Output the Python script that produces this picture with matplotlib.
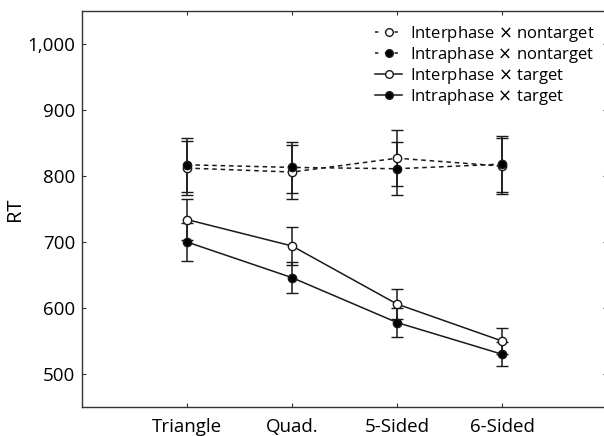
import numpy as np
import matplotlib
matplotlib.use('Agg')
import matplotlib.pyplot as plt
from matplotlib.ticker import FuncFormatter
from matplotlib.lines import Line2D

plt.rcParams['font.family'] = ['Open Sans', 'DejaVu Sans']
plt.rcParams['mathtext.fontset'] = 'dejavusans'

shapes = ['Triangle', 'Quad.', '5-Sided', '6-Sided']

inter_nontarget = [812, 806, 827, 815]
inter_nontarget_err = [41, 41, 42, 42]
intra_nontarget = [817, 813, 811, 818]
intra_nontarget_err = [41, 39, 40, 42]
inter_target = [734, 694, 606, 550]
inter_target_err = [31, 29, 23, 19]
intra_target = [700, 646, 578, 530]
intra_target_err = [29, 24, 22, 18]

series = [
    (r'Interphase $\times$ nontarget', inter_nontarget, inter_nontarget_err, 'white', (0, (3, 2.5))),
    (r'Intraphase $\times$ nontarget', intra_nontarget, intra_nontarget_err, 'black', (0, (3, 2.5))),
    (r'Interphase $\times$ target', inter_target, inter_target_err, 'white', '-'),
    (r'Intraphase $\times$ target', intra_target, intra_target_err, 'black', '-'),
]

fig = plt.figure(figsize=(6.04, 4.36), dpi=100)

left = 82 / 604
bottom = (436 - 407) / 436
width = (607 - 82) / 604
height = (407 - 11) / 436

ax = fig.add_axes((left, bottom, width, height))

x = np.arange(1, len(shapes) + 1)
for name, vals, err, face, ls in series:
    ax.errorbar(x, vals, yerr=err, color='#1a1a1a', lw=1.1, ls=ls,
                marker='o', ms=6, mfc=face, mec='#1a1a1a', mew=1.0,
                capsize=4.5, capthick=1.1, elinewidth=1.1, label=name)

ax.set_xlim(0, 5)
ax.set_ylim(450, 1050)
ax.set_xticks(x)
ax.set_xticklabels(shapes)
ax.set_yticks([500, 600, 700, 800, 900, 1000])
ax.yaxis.set_major_formatter(FuncFormatter(lambda v, p: f'{int(v):,}'))
ax.tick_params(direction='in', length=3, width=0.8, labelsize=13.5,
               top=True, right=True, color='#333333')
ax.tick_params(axis='x', pad=8)
ax.tick_params(axis='y', pad=5)
for s in ax.spines.values():
    s.set_linewidth(1.0)
    s.set_color('#333333')

ax.set_ylabel('RT', fontsize=14.5)
ax.yaxis.set_label_coords(-0.109, 0.5)

leg_handles = []
for name, vals, err, face, ls in series:
    leg_handles.append(Line2D([], [], color='#1a1a1a', lw=1.1,
                              ls=(0, (2.2, 4.2)) if ls != '-' else '-',
                              marker='o', ms=5.5, mfc=face, mec='#1a1a1a'))
ax.legend(leg_handles, [s[0] for s in series], loc='upper left',
          bbox_to_anchor=(0.534, 1.0), frameon=False, fontsize=12,
          handlelength=1.6, handletextpad=0.45, labelspacing=0.06,
          borderaxespad=0.38)

fig.savefig('out.png', dpi=100)
